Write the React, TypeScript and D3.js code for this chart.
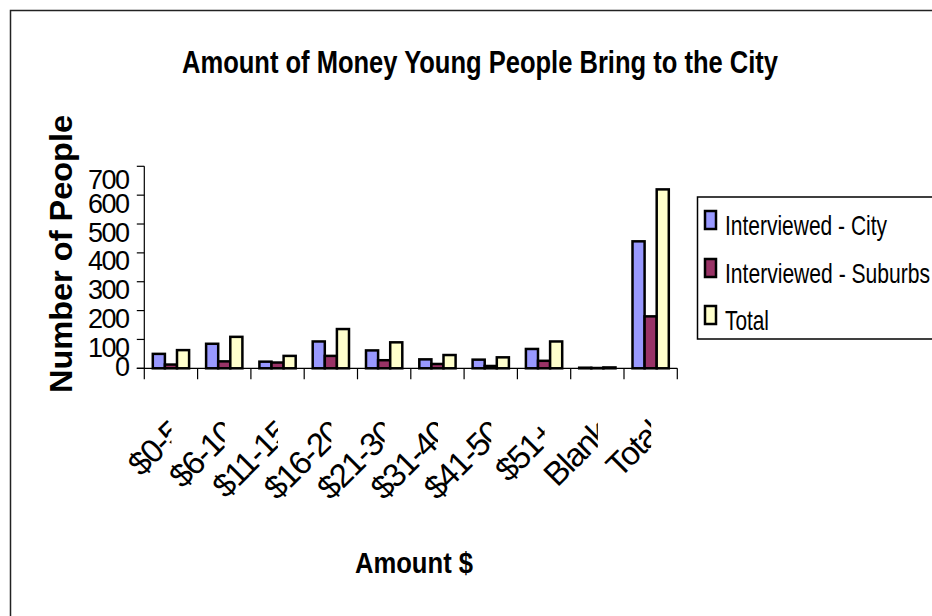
import React from "react";
import * as d3 from "d3";

const categories = ["$0-5", "$6-10", "$11-15", "$16-20", "$21-30", "$31-40", "$41-50", "$51+", "Blank", "Total"];
const seriesNames = ["Interviewed - City", "Interviewed - Suburbs", "Total"];
const cityValues = [50, 85, 23, 93, 62, 31, 30, 67, 2, 440];
const suburbsValues = [13, 24, 20, 43, 28, 15, 8, 26, 1, 180];
const totalValues = [63, 109, 43, 136, 90, 46, 38, 93, 3, 620];
const yTicks = [0, 100, 200, 300, 400, 500, 600, 700];
const colors = ["#9999FF", "#993366", "#FFFFCC"];

const FONT = "'Liberation Sans', Arial, sans-serif";

export default function App() {
  const W = 932, H = 616;
  const x0 = 144.3, x1 = 677.3, yTop = 166.3, yBot = 368.3;
  const x = d3.scaleBand<string>().domain(categories).range([x0, x1]).padding(0);
  const groupW = 36.3;
  const xs = d3.scaleBand<number>().domain([0, 1, 2]).range([0, groupW]).padding(0);
  const y = d3.scaleLinear().domain([0, 700]).range([yBot, yTop]);
  const series = [cityValues, suburbsValues, totalValues];
  const bw = x.bandwidth();

  const legendBaselines = [235, 283, 330];
  const legendWidths = [162, 205, 44];

  return (
    <svg width={W} height={H} style={{ position: "absolute", left: 0, top: 0, background: "#fff" }} fontFamily={FONT}>
      <defs>
        {categories.map((c, i) => (
          <clipPath id={`lbl${i}`} key={c}>
            <rect x={0} y={380} width={(x(c) as number) + bw / 2 + 0.5} height={200} />
          </clipPath>
        ))}
      </defs>
      <rect x={0} y={0} width={W} height={H} fill="#fff" />
      {/* outer frame */}
      <rect x={10.5} y={10.5} width={1200} height={1200} fill="none" stroke="#222" strokeWidth={1.5} />

      {/* title */}
      <text x={480} y={73} textAnchor="middle" fontWeight="bold" fontSize={32} textLength={596} lengthAdjust="spacingAndGlyphs">
        Amount of Money Young People Bring to the City
      </text>

      {/* y axis title */}
      <text transform="translate(72,254) rotate(-90)" textAnchor="middle" fontWeight="bold" fontSize={32} textLength={278} lengthAdjust="spacingAndGlyphs">
        Number of People
      </text>

      {/* x axis title */}
      <text x={414} y={573} textAnchor="middle" fontWeight="bold" fontSize={29} textLength={118} lengthAdjust="spacingAndGlyphs">
        Amount $
      </text>

      {/* bars */}
      {categories.map((c, i) => (
        <g key={c} transform={`translate(${(x(c) as number) + (bw - groupW) / 2},0)`}>
          {series.map((s, k) => (
            <rect
              key={k}
              x={xs(k) as number}
              y={y(s[i])}
              width={xs.bandwidth()}
              height={yBot - y(s[i])}
              fill={colors[k]}
              stroke="#000"
              strokeWidth={2.5}
            />
          ))}
        </g>
      ))}

      {/* axes */}
      <line x1={x0} x2={x0} y1={yTop} y2={yBot} stroke="#000" strokeWidth={1.2} />
      <line x1={x0 - 7.5} x2={x1} y1={yBot} y2={yBot} stroke="#000" strokeWidth={1.2} />
      {yTicks.map((t) => (
        <line key={t} x1={x0 - 7.5} x2={x0} y1={y(t)} y2={y(t)} stroke="#000" strokeWidth={1.2} />
      ))}
      {categories.map((c) => (
        <line key={c} x1={x(c) as number} x2={x(c) as number} y1={yBot} y2={yBot + 11} stroke="#000" strokeWidth={1.2} />
      ))}
      <line x1={x1} x2={x1} y1={yBot} y2={yBot + 11} stroke="#000" strokeWidth={1.2} />

      {/* y tick labels */}
      {yTicks.map((t) => {
        const cy = Math.min(Math.max(y(t) + 8, yTop + 13.5), yBot - 2);
        return (
          <text key={t} x={128.5} y={cy + 9.5} textAnchor="end" fontSize={27} letterSpacing={-1.5}>
            {t}
          </text>
        );
      })}

      {/* category labels */}
      {categories.map((c, i) => {
        const cx = (x(c) as number) + bw / 2;
        return (
          <g key={c} clipPath={`url(#lbl${i})`}>
            <text
              transform={`translate(${cx + 13},${435}) rotate(-45)`}
              textAnchor="end"
              fontSize={33}
              letterSpacing={-1.5}
            >
              {c}
            </text>
          </g>
        );
      })}

      {/* legend */}
      <rect x={697.5} y={197} width={400} height={142} fill="#fff" stroke="#000" strokeWidth={1.5} />
      {seriesNames.map((n, k) => (
        <g key={n}>
          <rect x={705} y={legendBaselines[k] - 24} width={11} height={18} fill={colors[k]} stroke="#000" strokeWidth={2.5} />
          <text x={725} y={legendBaselines[k]} fontSize={28} textLength={legendWidths[k]} lengthAdjust="spacingAndGlyphs">
            {n}
          </text>
        </g>
      ))}
    </svg>
  );
}
